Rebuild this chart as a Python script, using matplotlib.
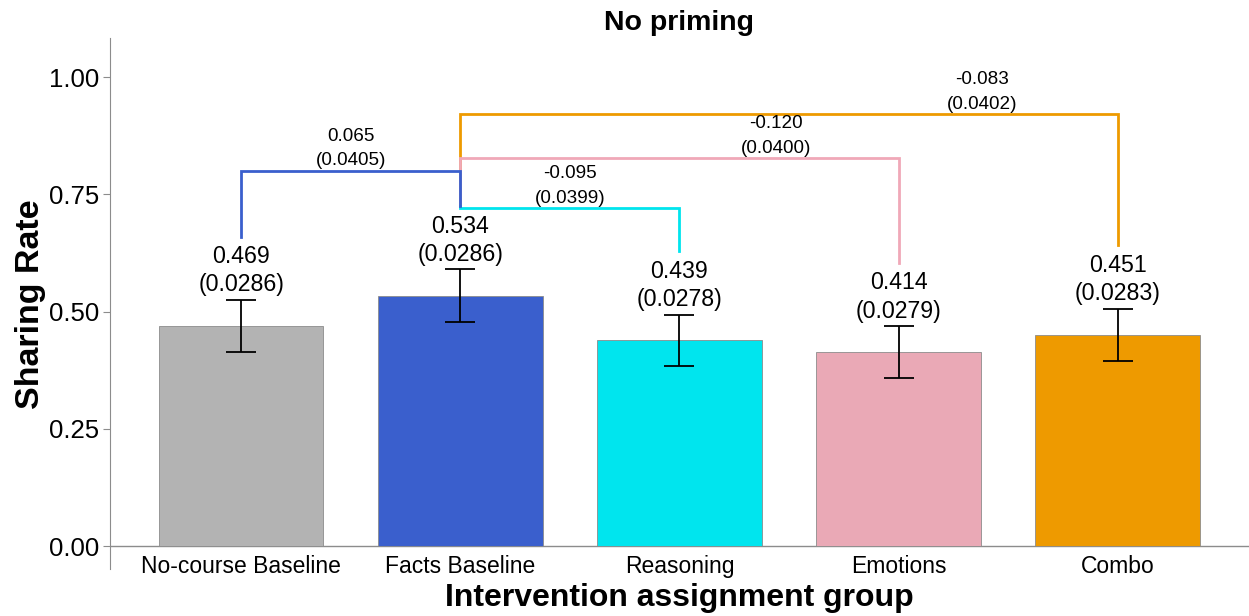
import matplotlib.pyplot as plt
import numpy as np

plt.rcParams['font.family'] = ['Liberation Sans', 'DejaVu Sans']

groups = ["No-course Baseline", "Facts Baseline", "Reasoning", "Emotions", "Combo"]
means = [0.469, 0.534, 0.439, 0.414, 0.451]
ses = [0.0286, 0.0286, 0.0278, 0.0279, 0.0283]
colors = ['#b3b3b3', '#3a5fcd', '#00e5ee', '#eaa9b6', '#ee9a00']

# comparisons against Facts Baseline: (from, to, diff, se, bracket height, label x)
comp_from = [1, 1, 1, 0]
comp_to = [4, 3, 2, 1]
comp_diff = [-0.083, -0.120, -0.095, 0.065]
comp_se = [0.0402, 0.0400, 0.0399, 0.0405]
comp_y = [0.921, 0.827, 0.720, 0.800]
comp_lx = [3.38, 2.44, 1.5, 0.5]
comp_col = ['#ee9a00', '#f0a8b8', '#00e5ee', '#3a5fcd']

x = np.arange(len(groups))
err = 1.96 * np.array(ses)

fig = plt.figure(figsize=(12.49, 6.16), dpi=100)
ax = fig.add_axes([0.088, 0.0755, 0.912, 0.8625])

ax.bar(x, means, width=0.75, color=colors, edgecolor='#8c8c8c', linewidth=0.6, zorder=2)
ax.errorbar(x, means, yerr=err, fmt='none', ecolor='black', elinewidth=1.3,
            capsize=11, capthick=1.3, zorder=3)

for i in range(len(groups)):
    ax.text(x[i], means[i] + err[i] + 0.008, f"{means[i]:.3f}\n({ses[i]:.4f})",
            ha='center', va='bottom', fontsize=16.7, linespacing=1.28)

# leg bottoms follow the label tops
leg_bottom = [m + e + 0.135 for m, e in zip(means, err)]
for a, b, d, s, h, lx, c in zip(comp_from, comp_to, comp_diff, comp_se,
                                 comp_y, comp_lx, comp_col):
    ax.plot([x[a], x[a], x[b], x[b]], [leg_bottom[a], h, h, leg_bottom[b]],
            color=c, lw=2, zorder=1, solid_joinstyle='miter')
    ax.text(lx, h + 0.003, f"{d:.3f}\n({s:.4f})", ha='center', va='bottom',
            fontsize=13.6, linespacing=1.6)

ax.axhline(0, color='#8c8c8c', lw=1, zorder=1)
ax.set_xlim(-0.6, 4.6)
ax.set_ylim(-0.05, 1.083)
ax.set_yticks([0, 0.25, 0.5, 0.75, 1.0])
ax.set_yticklabels(["0.00", "0.25", "0.50", "0.75", "1.00"], fontsize=18.5)
ax.set_xticks(x)
ax.set_xticklabels(groups, fontsize=16.5)
# x labels sit just under the zero line, not under the axes bottom
ax.tick_params(axis='x', length=0, pad=-10.5)
ax.tick_params(axis='y', length=5, color='#8c8c8c', pad=3)
for side in ['top', 'right', 'bottom']:
    ax.spines[side].set_visible(False)
ax.spines['left'].set_color('#8c8c8c')

ax.set_title("No priming", fontsize=20.5, fontweight='bold', pad=6)
ax.set_ylabel("Sharing Rate", fontsize=24.5, fontweight='bold', labelpad=2)
ax.set_xlabel("Intervention assignment group", fontsize=23, fontweight='bold', labelpad=4)

fig.savefig("out.png", dpi=100)
